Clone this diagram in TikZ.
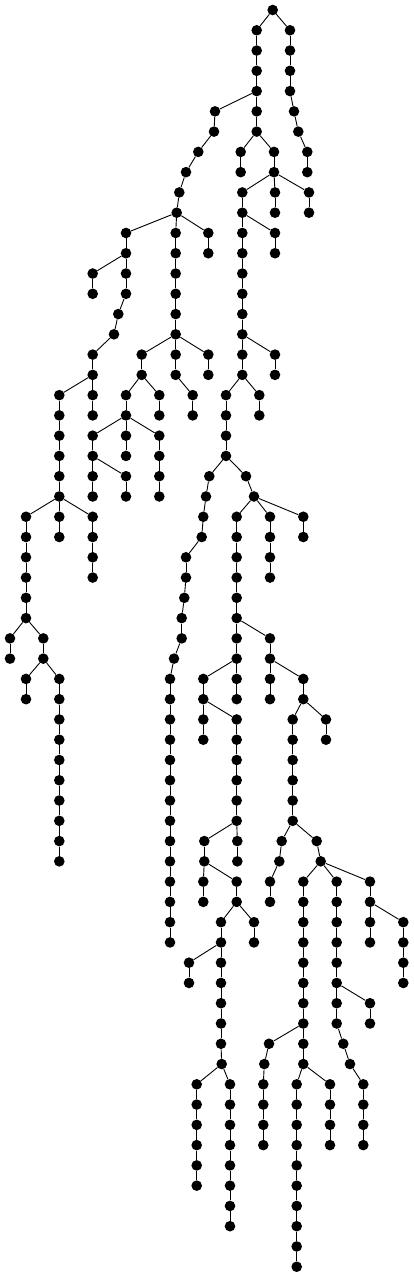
\documentclass[tikz,border=0pt]{standalone}

% a run of dots, one per row, each joined to the one above
\newcommand{\treechain}[3]{%
  \foreach \xx [count=\k from #2] in {#3} {
    \node[dot] (#1-\k) at (\xx,\k) {};
  }
  \foreach \xx [count=\k from #2] in {#3} {
    \ifnum\k>#2\relax
      \pgfmathtruncatemacro{\kprev}{\k-1}
      \draw[link] (#1-\kprev) -- (#1-\k);
    \fi
  }
}

\begin{document}
\begin{tikzpicture}[x=1pt,y=-20.27pt,
  dot/.style={circle,fill=black,inner sep=0pt,minimum size=10.6pt},
  link/.style={line width=0.9pt}]

\useasboundingbox (0,-0.4933) rectangle (414,62.5066);

% === Root and right arm ===
\treechain{rt}{0}{272.7}
\treechain{ra}{1}{290,290,290,290,294,298.3,307.3,307.3}
\treechain{tr}{1}{256.7,256.7,256.7,256.7}

% === Middle part ===
\treechain{mc}{5}{256.7,256.7}
\treechain{md}{7}{240.7,240.7}
\treechain{me}{7}{274,274}
\treechain{mg}{9}{275,275}
\treechain{mh}{9}{309,309}
\treechain{sp}{9}{242.3,242.3,242.3,242.3,242.3,242.3,242.3,242.3,242.3,242.3,226,226,226,226}
\treechain{ka}{11}{275,275}
\treechain{kb}{17}{275,275}
\treechain{kc}{19}{259.3,259.3}
\treechain{ll}{23}{209.3,206,203.3,201.7,186,186,184.3,181.7,181.7,174,170,170,170,170,170,170,170,170,170,170,170,170,170,170}
\treechain{rb}{23}{246,254}
\treechain{rc}{25}{236.7,236.7,236.7,236.7,236.7,236.7,236.7,236.7}
\treechain{rd}{25}{270,270,270,270}
\treechain{re}{25}{303.3,303.3}

% === Lower right part ===
\treechain{rf}{31}{270,270,303.3,303.3,292.7,292.7,292.7,292.7,292.7,292.7}
\treechain{rg}{33}{270,270}
\treechain{rh}{35}{326,326}
\treechain{ri}{41}{281.7,279.3,270,270}
\treechain{rj}{41}{316.7,320.7}
\treechain{rk}{43}{303.3,303.3,303.3,303.3,303.3,303.3,303.3,303.3,303.3,303.3,296.7,296.7,296.7,296.7,296.7,296.7,296.7,296.7,296.7,296.7}
\treechain{rl}{51}{269,264.3,263.3,263.3,263.3,263.3}
\treechain{rm}{53}{330,330,330,330}
\treechain{rn}{43}{336.7,336.7,336.7,336.7,336.7,336.7,336.7,336.7,343.3,350,363.3,363.3,363.3,363.3}
\treechain{ro}{49}{370,370}
\treechain{rp}{43}{370,370,370,370}
\treechain{rq}{45}{403.3,403.3,403.3,403.3}

% === Lower middle part ===
\treechain{sa}{33}{203.3,203.3,236.7,236.7,236.7,236.7,236.7,236.7,204.3,204.3,236.7,236.7,221,221,221,221,221,221,221,221.7,230,230,230,230,230,230,230,230}
\treechain{sb}{33}{236.7,236.7}
\treechain{sc}{35}{203.3,203.3}
\treechain{sd}{41}{237.3,237.3}
\treechain{se}{43}{203.3,203.3}
\treechain{sf}{45}{254,254}
\treechain{sg}{47}{189,189}
\treechain{sh}{53}{196.7,196.7,196.7,196.7,196.7,196.7}

% === Left part ===
\treechain{lf}{5}{215,214,198.3,186,179.3,176.7,175.7,175.7,175.7,175.7,175.7,175.7,175.7,175.7,192.7,192.7}
\treechain{la}{11}{208.3,208.3}
\treechain{lb}{17}{208.3,208.3}
\treechain{lc}{17}{141.7,141.7,126,126,92.7,92.7,92.7,92.7}
\treechain{ld}{19}{159.3,159.3}
\treechain{le}{21}{126,126}
\treechain{lg}{21}{159.3,159.3,159.3,159.3}
\treechain{lh}{23}{126,126}
\treechain{lk}{11}{126,126,126,126,118.3,114,92.7,92.7,59.3,59.3,59.3,59.3,59.3,59.3,26,26,26,26,26,26,43.3,43.3,59.3,59.3,59.3,59.3,59.3,59.3,59.3,59.3,59.3,59.3}
\treechain{lm}{13}{92.7,92.7}
\treechain{ln}{19}{92.7,92.7}
\treechain{lo}{25}{59.3,59.3}
\treechain{lp}{25}{92.7,92.7,92.7,92.7}
\treechain{lq}{31}{10,10}
\treechain{lr}{33}{26,26}

% === Branch links ===
\foreach \from/\to in {rt-0/ra-1, rt-0/tr-1, tr-4/mc-5, tr-4/lf-5,
    mc-6/md-7, mc-6/me-7, me-8/sp-9, me-8/mg-9, me-8/mh-9,
    sp-10/ka-11, sp-16/kb-17, sp-18/kc-19, sp-22/ll-23, sp-22/rb-23,
    rb-24/rc-25, rb-24/rd-25, rb-24/re-25, rc-30/rf-31, rc-32/sa-33, rc-32/sb-33,
    rf-32/rg-33, rf-34/rh-35, rf-40/ri-41, rf-40/rj-41,
    rj-42/rk-43, rj-42/rn-43, rj-42/rp-43, rk-50/rl-51, rk-52/rm-53,
    rn-48/ro-49, rp-44/rq-45,
    sa-34/sc-35, sa-40/sd-41, sa-42/se-43, sa-44/sf-45, sa-46/sg-47, sa-52/sh-53,
    lf-10/la-11, lf-10/lk-11, lf-16/lb-17, lf-16/lc-17,
    lc-18/ld-19, lc-20/le-21, lc-20/lg-21, lc-22/lh-23,
    lk-12/lm-13, lk-18/ln-19, lk-24/lo-25, lk-24/lp-25, lk-30/lq-31, lk-32/lr-33}
  \draw[link] (\from) -- (\to);

\end{tikzpicture}
\end{document}
